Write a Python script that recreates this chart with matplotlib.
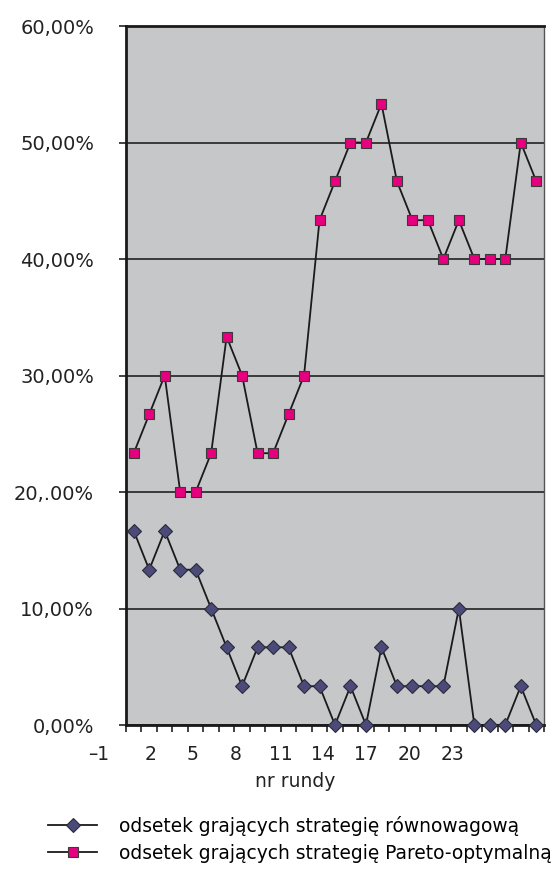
import matplotlib
matplotlib.use("Agg")
import matplotlib.pyplot as plt
import matplotlib.transforms as mtransforms
import numpy as np

rounds = list(range(1, 28))
rownowagowa = [16.67, 13.33, 16.67, 13.33, 13.33, 10.0, 6.67, 3.33, 6.67, 6.67,
               6.67, 3.33, 3.33, 0.0, 3.33, 0.0, 6.67, 3.33, 3.33, 3.33,
               3.33, 10.0, 0.0, 0.0, 0.0, 3.33, 0.0]
pareto = [23.33, 26.67, 30.0, 20.0, 20.0, 23.33, 33.33, 30.0, 23.33, 23.33,
          26.67, 30.0, 43.33, 46.67, 50.0, 50.0, 53.33, 46.67, 43.33, 43.33,
          40.0, 43.33, 40.0, 40.0, 40.0, 50.0, 46.67]
y_ticks = [0, 10, 20, 30, 40, 50, 60]
y_labels = ["0,00%", "10,00%", "20,.00%", "30,00%", "40,00%", "50,00%", "60,00%"]
x_labels = ["\u20131", "2", "5", "8", "11", "14", "17", "20", "23"]
x_label_pos = [-1.28, 2.07, 4.8, 7.6, 10.5, 13.2, 16.0, 18.8, 21.6]

FONT = ["DejaVu Sans"]
plt.rcParams["font.family"] = FONT

fig = plt.figure(figsize=(5.54, 8.71), dpi=100)
ax = fig.add_axes([126/554, 1-725/871, 418/554, 699/871])
ax.set_facecolor("#c6c7c9")

ax.plot(rounds, rownowagowa, color="#1a1a1a", lw=1.3, marker="D", markersize=7.5,
        markerfacecolor="#4b4a78", markeredgecolor="#2a2a3a", markeredgewidth=0.8,
        label="odsetek grających strategię równowagową", zorder=3, clip_on=False)
ax.plot(rounds, pareto, color="#1a1a1a", lw=1.3, marker="s", markersize=7.3,
        markerfacecolor="#e6007e", markeredgecolor="#3a3a3a", markeredgewidth=0.8,
        label="odsetek grających strategię Pareto-optymalną", zorder=3, clip_on=False)

ax.set_xlim(0.5, 27.5)
ax.set_ylim(0, 60)
ax.set_yticks(y_ticks)
ax.set_yticklabels(y_labels, fontsize=14, color="#222222")
ax.tick_params(axis="y", direction="out", length=5, width=1.2, pad=18, color="#222222")
ax.yaxis.grid(True, color="#222222", lw=1.2)
ax.set_axisbelow(True)

ax.set_xticks([])
ax.set_xticks(np.arange(0.5, 28, 1), minor=True)
ax.tick_params(axis="x", which="minor", direction="out", length=5, width=1.2, color="#222222")

for lab, pos in zip(x_labels, x_label_pos):
    ax.text(pos, -0.042, lab, transform=mtransforms.blended_transform_factory(ax.transData, ax.transAxes),
            ha="center", va="center", fontsize=13.5, color="#222222", clip_on=False)

for s in ["left", "bottom", "top"]:
    ax.spines[s].set_linewidth(2)
    ax.spines[s].set_color("#1a1a1a")
ax.spines["right"].set_linewidth(1.0)
ax.spines["right"].set_color("#555555")

fig.text(295/554, 1-781/871, "nr rundy", ha="center", va="center", fontsize=13.5, color="#222222")

handles, labels = ax.get_legend_handles_labels()
fig.legend(handles, labels, loc="upper left", bbox_to_anchor=(48/554, 1-816/871),
           frameon=False, fontsize=13.4, handlelength=2.65, handletextpad=1.15,
           labelspacing=0.42, borderaxespad=0, borderpad=0)

fig.savefig("out.png", dpi=100)
